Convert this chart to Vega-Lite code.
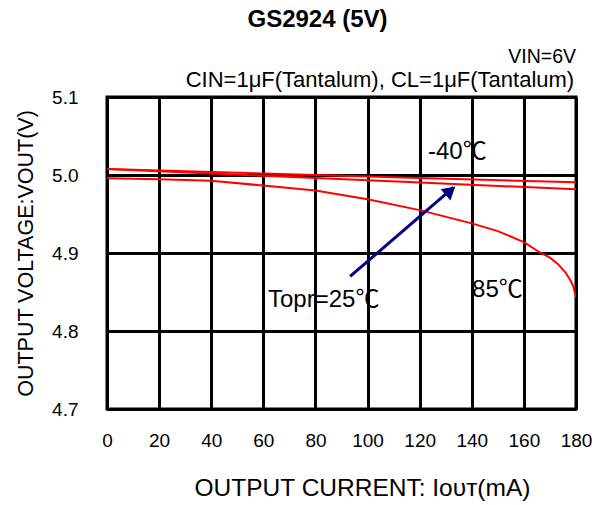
{
  "$schema": "https://vega.github.io/schema/vega-lite/v6.json",
  "autosize": {"type": "none"},
  "padding": {"left": 107, "top": 97, "right": 25, "bottom": 96},
  "width": 469,
  "height": 312,
  "background": "white",
  "config": {
    "font": "Liberation Sans",
    "view": {"stroke": "black", "strokeWidth": 3},
    "axis": {"labelFont": "Liberation Sans", "titleFont": "Liberation Sans"}
  },
  "title": {
    "text": "GS2924 (5V)",
    "fontSize": 24,
    "fontWeight": "bold",
    "anchor": "middle",
    "frame": "group",
    "dx": -24,
    "offset": 15,
    "color": "black",
    "font": "Liberation Sans"
  },
  "datasets": {
    "curves": [
      {"series": "-40", "current": 0, "vout": 5.0076},
      {"series": "-40", "current": 60, "vout": 5.0020},
      {"series": "-40", "current": 120, "vout": 4.9962},
      {"series": "-40", "current": 180, "vout": 4.9907},
      {"series": "25", "current": 0, "vout": 5.0076},
      {"series": "25", "current": 60, "vout": 4.9990},
      {"series": "25", "current": 120, "vout": 4.9903},
      {"series": "25", "current": 180, "vout": 4.9818},
      {"series": "85", "current": 0, "vout": 4.9958},
      {"series": "85", "current": 20, "vout": 4.9945},
      {"series": "85", "current": 40, "vout": 4.9925},
      {"series": "85", "current": 60, "vout": 4.9865},
      {"series": "85", "current": 80, "vout": 4.9800},
      {"series": "85", "current": 100, "vout": 4.9690},
      {"series": "85", "current": 120, "vout": 4.9550},
      {"series": "85", "current": 140, "vout": 4.9380},
      {"series": "85", "current": 150, "vout": 4.9280},
      {"series": "85", "current": 160, "vout": 4.9140},
      {"series": "85", "current": 166, "vout": 4.9010},
      {"series": "85", "current": 170, "vout": 4.8940},
      {"series": "85", "current": 173, "vout": 4.8860},
      {"series": "85", "current": 176, "vout": 4.8750},
      {"series": "85", "current": 178, "vout": 4.8640},
      {"series": "85", "current": 179, "vout": 4.8570},
      {"series": "85", "current": 180, "vout": 4.8430}
    ],
    "labels": [
      {"text": "-40℃", "current": 123.2, "vout": 5.029},
      {"text": "Topr=25℃", "current": 61.8, "vout": 4.8395},
      {"text": "85℃", "current": 140.1, "vout": 4.852}
    ],
    "notes": [
      {"text": "VIN=6V", "current": 180, "vout": 5.151, "size": 19.5},
      {"text": "CIN=1μF(Tantalum), CL=1μF(Tantalum)", "current": 179.3, "vout": 5.1217, "size": 22}
    ],
    "arrow": [
      {"current": 93.3, "vout": 4.870, "current2": 133.0, "vout2": 4.984}
    ],
    "arrowhead": [
      {"current": 131.8, "vout": 4.980}
    ]
  },
  "layer": [
    {
      "data": {"name": "curves"},
      "mark": {"type": "line", "strokeWidth": 2, "clip": true},
      "encoding": {
        "x": {
          "field": "current", "type": "quantitative",
          "scale": {"domain": [0, 180], "nice": false, "zero": false},
          "axis": {
            "values": [0, 20, 40, 60, 80, 100, 120, 140, 160, 180],
            "title": "OUTPUT CURRENT: Iᴏᴜᴛ(mA)",
            "titleFontSize": 24.5, "titleFontWeight": "normal", "titleColor": "black",
            "titlePadding": 26, "titleX": 255, "titleAlign": "center",
            "labelFontSize": 19, "labelColor": "black", "labelPadding": 22,
            "ticks": false, "domain": true, "domainColor": "black", "domainWidth": 3,
            "grid": true, "gridColor": "black", "gridWidth": 3, "gridOpacity": 1,
            "labelFlush": false
          }
        },
        "y": {
          "field": "vout", "type": "quantitative",
          "scale": {"domain": [4.7, 5.1], "nice": false, "zero": false},
          "axis": {
            "values": [4.7, 4.8, 4.9, 5.0, 5.1],
            "format": ".1f",
            "title": "OUTPUT VOLTAGE:VOUT(V)",
            "titleFontSize": 21.5, "titleFontWeight": "normal", "titleColor": "black",
            "titlePadding": 14,
            "labelFontSize": 19, "labelColor": "black", "labelPadding": 29,
            "ticks": false, "domain": true, "domainColor": "black", "domainWidth": 3,
            "grid": true, "gridColor": "black", "gridWidth": 3, "gridOpacity": 1,
            "labelFlush": false
          }
        },
        "color": {
          "field": "series", "type": "nominal",
          "scale": {"domain": ["-40", "25", "85"], "range": ["#ff0000", "#ff0000", "#ff0000"]},
          "legend": null
        },
        "detail": {"field": "series"}
      }
    },
    {
      "data": {"name": "arrow"},
      "mark": {"type": "rule", "color": "#000080", "strokeWidth": 3},
      "encoding": {
        "x": {"field": "current", "type": "quantitative"},
        "y": {"field": "vout", "type": "quantitative"},
        "x2": {"field": "current2"},
        "y2": {"field": "vout2"}
      }
    },
    {
      "data": {"name": "arrowhead"},
      "mark": {"type": "point", "shape": "triangle-up", "filled": true, "color": "#000080", "opacity": 1, "size": 220, "angle": 49},
      "encoding": {
        "x": {"field": "current", "type": "quantitative"},
        "y": {"field": "vout", "type": "quantitative"}
      }
    },
    {
      "data": {"name": "labels"},
      "mark": {"type": "text", "align": "left", "baseline": "middle", "fontSize": 24, "color": "black", "font": "Liberation Sans, Noto Sans CJK SC"},
      "encoding": {
        "x": {"field": "current", "type": "quantitative"},
        "y": {"field": "vout", "type": "quantitative"},
        "text": {"field": "text"}
      }
    },
    {
      "data": {"name": "notes"},
      "mark": {"type": "text", "align": "right", "baseline": "middle", "color": "black", "font": "Liberation Sans", "clip": false},
      "encoding": {
        "x": {"field": "current", "type": "quantitative"},
        "y": {"field": "vout", "type": "quantitative"},
        "text": {"field": "text"},
        "size": {"field": "size", "type": "quantitative", "scale": null}
      }
    }
  ]
}
